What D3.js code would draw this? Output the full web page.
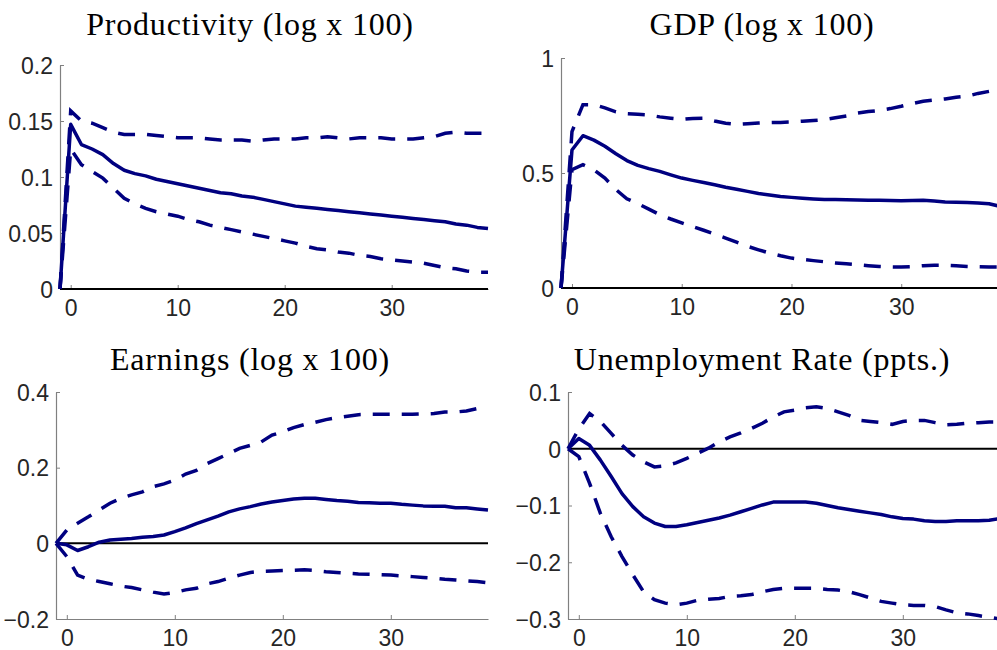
<!DOCTYPE html>
<html>
<head>
<meta charset="utf-8">
<script src="https://cdn.jsdelivr.net/npm/d3@7"></script>
<style>
  body { margin: 0; background: #fff; }
  svg { display: block; }
</style>
</head>
<body>
<svg></svg>
<script>
// horizons -1 .. 39
const horizons = d3.range(-1, 40);

const prodMedian = [0, 0.147, 0.129, 0.125, 0.120, 0.112, 0.106, 0.103, 0.101, 0.098, 0.096, 0.094, 0.092, 0.090, 0.088, 0.086, 0.085, 0.083, 0.082, 0.080, 0.078, 0.076, 0.074, 0.073, 0.072, 0.071, 0.070, 0.069, 0.068, 0.067, 0.066, 0.065, 0.064, 0.063, 0.062, 0.061, 0.060, 0.058, 0.057, 0.055, 0.054];
const prodUpper = [0, 0.159, 0.150, 0.148, 0.144, 0.140, 0.138, 0.138, 0.138, 0.137, 0.136, 0.135, 0.135, 0.135, 0.134, 0.133, 0.133, 0.133, 0.132, 0.133, 0.134, 0.134, 0.134, 0.135, 0.135, 0.136, 0.135, 0.134, 0.135, 0.135, 0.135, 0.134, 0.134, 0.134, 0.135, 0.136, 0.139, 0.140, 0.139, 0.139, 0.139];
const prodLower = [0, 0.125, 0.111, 0.105, 0.099, 0.090, 0.081, 0.076, 0.072, 0.069, 0.067, 0.065, 0.062, 0.060, 0.057, 0.055, 0.053, 0.051, 0.049, 0.047, 0.045, 0.043, 0.041, 0.038, 0.036, 0.035, 0.033, 0.032, 0.030, 0.029, 0.027, 0.026, 0.025, 0.024, 0.023, 0.021, 0.019, 0.018, 0.016, 0.015, 0.015];

const gdpMedian = [0, 0.600, 0.662, 0.643, 0.616, 0.584, 0.554, 0.533, 0.519, 0.507, 0.492, 0.478, 0.468, 0.459, 0.449, 0.438, 0.429, 0.420, 0.411, 0.404, 0.398, 0.394, 0.390, 0.387, 0.385, 0.385, 0.384, 0.383, 0.382, 0.381, 0.380, 0.379, 0.380, 0.381, 0.378, 0.374, 0.373, 0.372, 0.370, 0.366, 0.355];
const gdpUpper = [0, 0.680, 0.797, 0.797, 0.783, 0.766, 0.758, 0.755, 0.752, 0.744, 0.738, 0.733, 0.737, 0.738, 0.726, 0.716, 0.711, 0.714, 0.717, 0.719, 0.720, 0.722, 0.725, 0.728, 0.732, 0.740, 0.748, 0.760, 0.767, 0.772, 0.780, 0.790, 0.802, 0.812, 0.817, 0.822, 0.829, 0.834, 0.846, 0.855, 0.862];
const gdpLower = [0, 0.514, 0.536, 0.514, 0.478, 0.428, 0.388, 0.367, 0.343, 0.319, 0.300, 0.283, 0.267, 0.251, 0.234, 0.217, 0.199, 0.181, 0.166, 0.152, 0.140, 0.130, 0.124, 0.119, 0.114, 0.109, 0.105, 0.101, 0.097, 0.094, 0.092, 0.091, 0.093, 0.097, 0.099, 0.099, 0.097, 0.094, 0.092, 0.091, 0.091];

const earnMedian = [0, -0.004, -0.019, -0.009, 0.003, 0.009, 0.011, 0.013, 0.016, 0.018, 0.022, 0.031, 0.041, 0.052, 0.062, 0.072, 0.083, 0.091, 0.097, 0.104, 0.109, 0.113, 0.117, 0.119, 0.119, 0.116, 0.113, 0.111, 0.108, 0.107, 0.106, 0.106, 0.103, 0.101, 0.099, 0.098, 0.098, 0.094, 0.094, 0.091, 0.088];
const earnUpper = [0, 0.035, 0.053, 0.070, 0.088, 0.106, 0.119, 0.128, 0.136, 0.150, 0.157, 0.167, 0.183, 0.193, 0.211, 0.224, 0.237, 0.251, 0.259, 0.268, 0.286, 0.295, 0.306, 0.314, 0.320, 0.327, 0.332, 0.336, 0.340, 0.341, 0.341, 0.341, 0.341, 0.341, 0.342, 0.343, 0.347, 0.347, 0.350, 0.356, 0.362];
const earnLower = [0, -0.035, -0.084, -0.095, -0.101, -0.107, -0.113, -0.117, -0.123, -0.129, -0.134, -0.130, -0.123, -0.119, -0.107, -0.101, -0.092, -0.084, -0.077, -0.074, -0.073, -0.072, -0.071, -0.070, -0.072, -0.075, -0.077, -0.079, -0.081, -0.082, -0.083, -0.084, -0.086, -0.088, -0.090, -0.092, -0.095, -0.097, -0.099, -0.101, -0.104];

const unempMedian = [0, 0.018, 0.006, -0.020, -0.049, -0.079, -0.102, -0.120, -0.131, -0.137, -0.137, -0.134, -0.130, -0.126, -0.122, -0.117, -0.111, -0.105, -0.099, -0.094, -0.094, -0.094, -0.094, -0.096, -0.100, -0.104, -0.107, -0.110, -0.113, -0.116, -0.120, -0.123, -0.124, -0.127, -0.128, -0.128, -0.127, -0.127, -0.127, -0.126, -0.123];
const unempUpper = [0, 0.035, 0.062, 0.048, 0.027, 0.006, -0.011, -0.023, -0.032, -0.030, -0.025, -0.017, -0.008, 0.001, 0.012, 0.021, 0.028, 0.036, 0.045, 0.056, 0.065, 0.068, 0.072, 0.074, 0.071, 0.065, 0.059, 0.050, 0.048, 0.046, 0.043, 0.048, 0.050, 0.050, 0.046, 0.042, 0.043, 0.045, 0.046, 0.047, 0.047];
const unempLower = [0, -0.014, -0.061, -0.114, -0.155, -0.190, -0.222, -0.252, -0.266, -0.272, -0.275, -0.272, -0.267, -0.265, -0.264, -0.260, -0.259, -0.257, -0.252, -0.248, -0.246, -0.246, -0.246, -0.246, -0.248, -0.249, -0.252, -0.257, -0.263, -0.269, -0.272, -0.275, -0.276, -0.276, -0.278, -0.284, -0.289, -0.291, -0.294, -0.297, -0.300];

const titles = ['Productivity (log x 100)', 'GDP (log x 100)', 'Earnings (log x 100)', 'Unemployment Rate (ppts.)'];
const xTicks = [0, 10, 20, 30];
const prodTicks = [0, 0.05, 0.1, 0.15, 0.2];
const gdpTicks = [0, 0.5, 1];
const earnTicks = [-0.2, 0, 0.2, 0.4];
const unempTicks = [-0.3, -0.2, -0.1, 0, 0.1];

const svgWidth = 997;
const svgHeight = 650;
const lineColor = '#000080';

const svg = d3.select('svg')
    .attr('width', svgWidth)
    .attr('height', svgHeight);

const panels = [
    { title: titles[0], median: prodMedian, upper: prodUpper, lower: prodLower, yDomain: [0, 0.2], yTicks: prodTicks,
      left: 60, right: 488, top: 65, bottom: 289, titleX: 250, titleY: 35 },
    { title: titles[1], median: gdpMedian, upper: gdpUpper, lower: gdpLower, yDomain: [0, 1], yTicks: gdpTicks,
      left: 561, right: 1000, top: 58, bottom: 288, titleX: 762, titleY: 35 },
    { title: titles[2], median: earnMedian, upper: earnUpper, lower: earnLower, yDomain: [-0.2, 0.4], yTicks: earnTicks,
      left: 56, right: 488, top: 392, bottom: 619, titleX: 250, titleY: 370 },
    { title: titles[3], median: unempMedian, upper: unempUpper, lower: unempLower, yDomain: [-0.3, 0.1], yTicks: unempTicks,
      left: 568, right: 1000, top: 392, bottom: 619, titleX: 762, titleY: 370 }
];

panels.forEach(p => {
    const x = d3.scaleLinear().domain([-1, 39]).range([p.left, p.right]);
    const y = d3.scaleLinear().domain(p.yDomain).range([p.bottom, p.top]);
    const g = svg.append('g');

    const yAxis = g.append('g')
        .attr('transform', `translate(${p.left}, 0)`)
        .call(d3.axisLeft(y)
            .tickValues(p.yTicks)
            .tickFormat(d => d3.format('~g')(+d.toFixed(3)))
            .tickSizeInner(-4)
            .tickSizeOuter(0)
            .tickPadding(7));

    const xAxis = g.append('g')
        .attr('transform', `translate(0, ${p.bottom})`)
        .call(d3.axisBottom(x)
            .tickValues(xTicks)
            .tickSizeInner(-4)
            .tickSizeOuter(0)
            .tickPadding(11));

    [yAxis, xAxis].forEach(a => {
        a.select('.domain').attr('stroke', '#808080').attr('stroke-width', 1.2);
        a.selectAll('.tick line').attr('stroke', '#808080');
        a.selectAll('.tick text')
            .attr('fill', '#262626')
            .attr('font-family', '"Liberation Sans", Arial, sans-serif')
            .attr('font-size', '23px');
    });
    yAxis.selectAll('.tick text').attr('dy', '0.36em');
    xAxis.selectAll('.tick text').attr('dy', '0.7em');

    // zero reference line
    g.append('line')
        .attr('x1', x(-1))
        .attr('x2', x(39))
        .attr('y1', y(0))
        .attr('y2', y(0))
        .attr('stroke', '#000')
        .attr('stroke-width', 2);

    const line = d3.line()
        .x((d, i) => x(horizons[i]))
        .y(d => y(d));

    [p.upper, p.lower].forEach(band => {
        g.append('path')
            .datum(band)
            .attr('fill', 'none')
            .attr('stroke', lineColor)
            .attr('stroke-width', 3.5)
            .attr('stroke-dasharray', '17,12')
            .attr('d', line);
    });

    g.append('path')
        .datum(p.median)
        .attr('fill', 'none')
        .attr('stroke', lineColor)
        .attr('stroke-width', 3.5)
        .attr('stroke-linejoin', 'round')
        .attr('d', line);

    g.append('text')
        .attr('x', p.titleX)
        .attr('y', p.titleY)
        .attr('text-anchor', 'middle')
        .attr('font-family', '"Liberation Serif", "Times New Roman", serif')
        .attr('font-size', '32px')
        .attr('letter-spacing', '0.8px')
        .attr('fill', '#000')
        .text(p.title);
});
</script>
</body>
</html>
